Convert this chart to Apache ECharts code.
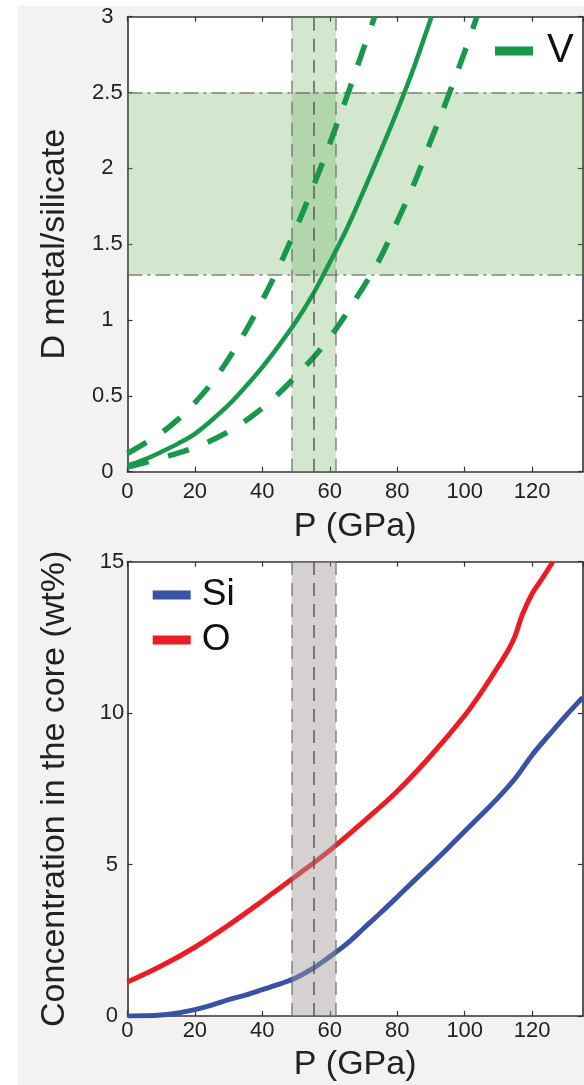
<!DOCTYPE html>
<html>
<head>
<meta charset="utf-8">
<script src="https://cdn.jsdelivr.net/npm/echarts@6/dist/echarts.min.js"></script>
<style>
html,body{margin:0;padding:0;background:#fff;}
#bg{position:absolute;left:18px;top:6px;right:0;bottom:0;background:#f2f2f0;}
#chart{position:absolute;left:0;top:0;width:584px;height:1085px;}
</style>
</head>
<body>
<div id="bg"></div>
<div id="chart"></div>
<script>
// ---- data ----
const xTicks = [0, 20, 40, 60, 80, 100, 120];
const pRange = [0, 135];
// V partition coefficient (solid) and bounds (dashed)
const vMid = [[0,0.04],[5,0.08],[10,0.13],[15,0.185],[20,0.25],[25,0.34],[30,0.44],[35,0.56],[40,0.69],[45,0.835],[50,0.99],[55,1.17],[60,1.38],[65,1.60],[70,1.85],[75,2.11],[80,2.38],[85,2.67],[90,2.99],[90.2,3.0]];
const vHigh = [[0,0.12],[5,0.185],[10,0.255],[15,0.345],[20,0.455],[25,0.585],[30,0.745],[35,0.925],[40,1.13],[45,1.355],[50,1.605],[55,1.875],[60,2.165],[65,2.47],[70,2.79],[73.3,3.0]];
const vLow = [[0,0.03],[10,0.09],[20,0.16],[30,0.265],[40,0.42],[50,0.63],[60,0.885],[70,1.22],[75,1.41],[80,1.65],[85,1.90],[90,2.185],[95,2.47],[100,2.77],[103.6,3.0]];
// core concentrations (wt%)
const siConc = [[0,0],[5,0.005],[10,0.03],[15,0.1],[20,0.21],[25,0.36],[30,0.54],[35,0.69],[40,0.87],[45,1.05],[50,1.26],[55,1.57],[60,1.96],[65,2.38],[70,2.89],[75,3.40],[80,3.93],[85,4.47],[90,5.0],[95,5.54],[100,6.1],[105,6.65],[110,7.22],[115,7.85],[120,8.62],[125,9.28],[130,9.92],[135,10.52]];
const oConc = [[0,1.12],[10,1.65],[20,2.27],[30,3.0],[40,3.8],[50,4.62],[60,5.47],[70,6.42],[80,7.42],[90,8.6],[100,9.92],[105,10.7],[110,11.56],[113,12.1],[115,12.57],[117,13.23],[120,13.95],[123,14.45],[126.1,15.0]];
// pressure band (GPa) and D band
const pBand = [48.7, 61.8];
const pCenter = 55.2;
const dBand = [1.3, 2.5];
const dTicks = [0, 0.5, 1, 1.5, 2, 2.5, 3];
const cTicks = [0, 5, 10, 15];

// ---- chart ----
const FONT = "'Liberation Sans', Arial, sans-serif";
const GREEN = '#17984a', RED = '#ec1c24', BLUE = '#3953a4';
const frame = {show: true, onZero: false, lineStyle: {color: '#333', width: 1.6}};
const tickIn = {show: true, inside: true, length: 5, lineStyle: {color: '#333', width: 1.2}};
const grids = [
  {left: 127.4, top: 16.7, right: 1.2, height: 455, show: true, backgroundColor: '#fff', borderWidth: 0},
  {left: 127.4, top: 561.7, right: 1.2, height: 454.3, show: true, backgroundColor: '#fff', borderWidth: 0}
];
function xAx(grid, pos, withLabels, nameGap, labelMargin) {
  return {
    type: 'value', gridIndex: grid, position: pos, min: pRange[0], max: pRange[1], interval: 20,
    axisLine: frame, axisTick: tickIn, splitLine: {show: false},
    axisLabel: withLabels ? {show: true, margin: labelMargin, fontSize: 22, color: '#222', fontFamily: FONT, showMaxLabel: false,
      formatter: v => xTicks.includes(v) ? String(v) : ''} : {show: false},
    name: withLabels ? 'P (GPa)' : '', nameLocation: 'middle', nameGap: nameGap,
    nameTextStyle: {fontSize: 34, color: '#222', fontFamily: FONT}
  };
}
function yAx(grid, pos, max, interval, ticks, name, labelMargin) {
  return {
    type: 'value', gridIndex: grid, position: pos, min: 0, max: max, interval: interval,
    axisLine: frame, axisTick: tickIn, splitLine: {show: false},
    axisLabel: name ? {show: true, margin: labelMargin, align: 'center', fontSize: 22, color: '#222', fontFamily: FONT,
      formatter: v => ticks.includes(v) ? String(v) : ''} : {show: false},
    name: name || '', nameLocation: 'middle', nameGap: 56, nameRotate: 90,
    nameTextStyle: {fontSize: 34, color: '#222', fontFamily: FONT}
  };
}
const bandEdge = {color: 'rgba(100,100,100,0.7)', width: 1.6, type: [13, 8]};
const bandMid = {color: 'rgba(80,80,80,0.85)', width: 1.6, type: [13, 8]};
const dashDot = {color: 'rgba(100,100,100,0.8)', width: 1.5, type: [15, 5, 3, 5]};
const lineCommon = {smooth: 0.35, showSymbol: false};

const option = {
  animation: false,
  backgroundColor: 'transparent',
  textStyle: {fontFamily: FONT},
  grid: grids,
  xAxis: [xAx(0, 'bottom', true, 38, 9), xAx(0, 'top', false), xAx(1, 'bottom', true, 32, 4), xAx(1, 'top', false)],
  yAxis: [yAx(0, 'left', 3, 0.5, dTicks, 'D metal/silicate', 20), yAx(0, 'right', 3, 0.5, dTicks, null),
          yAx(1, 'left', 15, 5, cTicks, 'Concentration in the core (wt%)', 15.5), yAx(1, 'right', 15, 5, cTicks, null)],
  legend: [
    {data: ['V'], orient: 'vertical', left: 495, top: 31, padding: 0, itemWidth: 38, itemHeight: 9, icon: 'rect',
     textStyle: {fontSize: 40, lineHeight: 40, color: '#111', fontFamily: FONT, padding: [0, 0, 0, 9]}},
    {data: ['Si', 'O'], orient: 'vertical', left: 152.7, top: 576.5, padding: 0, itemGap: 8, itemWidth: 38, itemHeight: 9, icon: 'rect',
     textStyle: {fontSize: 37, lineHeight: 37, color: '#111', fontFamily: FONT, padding: [0, 0, 0, 6]}}
  ],
  series: [
    {name: 'bandTop', type: 'line', xAxisIndex: 0, yAxisIndex: 0, data: [], silent: true,
     markArea: {silent: true, z: 1, itemStyle: {color: 'rgba(101,174,85,0.29)'},
       data: [[{xAxis: pBand[0]}, {xAxis: pBand[1]}], [{yAxis: dBand[0]}, {yAxis: dBand[1]}]]},
     markLine: {silent: true, symbol: 'none', label: {show: false}, z: 5,
       data: [{xAxis: pBand[0], lineStyle: bandEdge}, {xAxis: pBand[1], lineStyle: bandEdge}, {xAxis: pCenter, lineStyle: bandMid},
              {yAxis: dBand[0], lineStyle: dashDot}, {yAxis: dBand[1], lineStyle: dashDot}]}},
    Object.assign({name: 'V', type: 'line', xAxisIndex: 0, yAxisIndex: 0, data: vMid, z: 3,
     lineStyle: {color: GREEN, width: 4.5}, itemStyle: {color: GREEN}}, lineCommon),
    Object.assign({name: 'V high', type: 'line', xAxisIndex: 0, yAxisIndex: 0, data: vHigh, z: 3,
     lineStyle: {color: GREEN, width: 5.5, type: [22, 20]}, itemStyle: {color: GREEN}}, lineCommon),
    Object.assign({name: 'V low', type: 'line', xAxisIndex: 0, yAxisIndex: 0, data: vLow, z: 3,
     lineStyle: {color: GREEN, width: 5.5, type: [22, 20]}, itemStyle: {color: GREEN}}, lineCommon),
    Object.assign({name: 'Si', type: 'line', xAxisIndex: 2, yAxisIndex: 2, data: siConc, z: 2,
     lineStyle: {color: BLUE, width: 5}, itemStyle: {color: BLUE}}, lineCommon),
    Object.assign({name: 'O', type: 'line', xAxisIndex: 2, yAxisIndex: 2, data: oConc, z: 2,
     lineStyle: {color: RED, width: 5}, itemStyle: {color: RED}}, lineCommon),
    {name: 'bandBottom', type: 'line', xAxisIndex: 2, yAxisIndex: 2, data: [], silent: true,
     markArea: {silent: true, z: 4, itemStyle: {color: 'rgba(160,154,150,0.45)'},
       data: [[{xAxis: pBand[0]}, {xAxis: pBand[1]}]]},
     markLine: {silent: true, symbol: 'none', label: {show: false}, z: 5,
       data: [{xAxis: pBand[0], lineStyle: bandEdge}, {xAxis: pBand[1], lineStyle: bandEdge}, {xAxis: pCenter, lineStyle: bandMid}]}}
  ]
};
const chart = echarts.init(document.getElementById('chart'), null, {renderer: 'canvas'});
chart.setOption(option);
</script>
</body>
</html>
